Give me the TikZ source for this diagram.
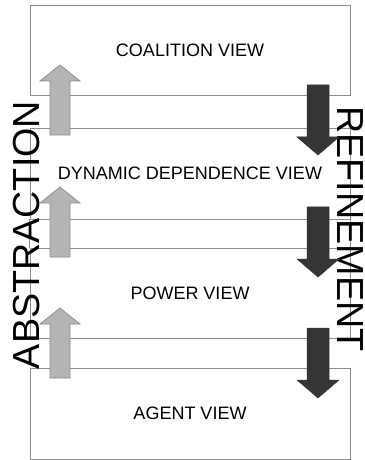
\documentclass[tikz,border=0pt]{standalone}
\usepackage{fontspec}
\setmainfont{Liberation Sans}
\definecolor{boxline}{HTML}{8C8C8C}
\definecolor{lightfill}{HTML}{B4B4B4}
\definecolor{lightline}{HTML}{8A8A8A}
\definecolor{darkfill}{HTML}{353535}
\tikzset{
  viewbox/.style={draw=boxline, line width=0.8bp, minimum width=320bp, inner sep=0pt,
    font=\fontsize{18bp}{20bp}\selectfont},
  sidelabel/.style={inner sep=0pt, font=\fontsize{37.7bp}{40bp}\selectfont},
  gapline/.style={draw=boxline, line width=0.8bp},
  uparr/.pic={\filldraw[fill=lightfill, draw=lightline, line width=0.7bp]
    (-10,0) -- (-10,-54) -- (-20,-54) -- (0,-70) -- (20,-54) -- (10,-54) -- (10,0) -- cycle;},
  downarr/.pic={\filldraw[fill=darkfill, draw=darkfill, line width=0.5bp]
    (-11,0) -- (-11,52) -- (-21,52) -- (0,70) -- (21,52) -- (11,52) -- (11,0) -- cycle;}
}
\begin{document}
\begin{tikzpicture}[x=1bp, y=-1bp]
\useasboundingbox (0,0) rectangle (364,460);
\fill[white] (0,0) rectangle (364,460);
% boxes
\node[viewbox, minimum height=90bp] (coal) at (190,50) {COALITION VIEW};
\node[viewbox, minimum height=91bp] (dyn) at (190,173.5) {DYNAMIC DEPENDENCE VIEW};
\node[viewbox, minimum height=90bp] (pow) at (190,293) {POWER VIEW};
\node[viewbox, minimum height=91bp] (agent) at (190,413.5) {AGENT VIEW};
\draw[gapline] (dyn.south west) -- (pow.north west);
\draw[gapline] (dyn.south east) -- (pow.north east);
% side labels
\node[sidelabel, rotate=90] (abs) at (27,235) {ABSTRACTION};
\node[sidelabel, rotate=-90] (ref) at (350.5,229) {REFINEMENT};
% arrows
\pic at (60,135) {uparr};
\pic at (60,257) {uparr};
\pic at (60,378) {uparr};
\pic at (318,85) {downarr};
\pic at (318,207) {downarr};
\pic at (318,328) {downarr};
\end{tikzpicture}
\end{document}
